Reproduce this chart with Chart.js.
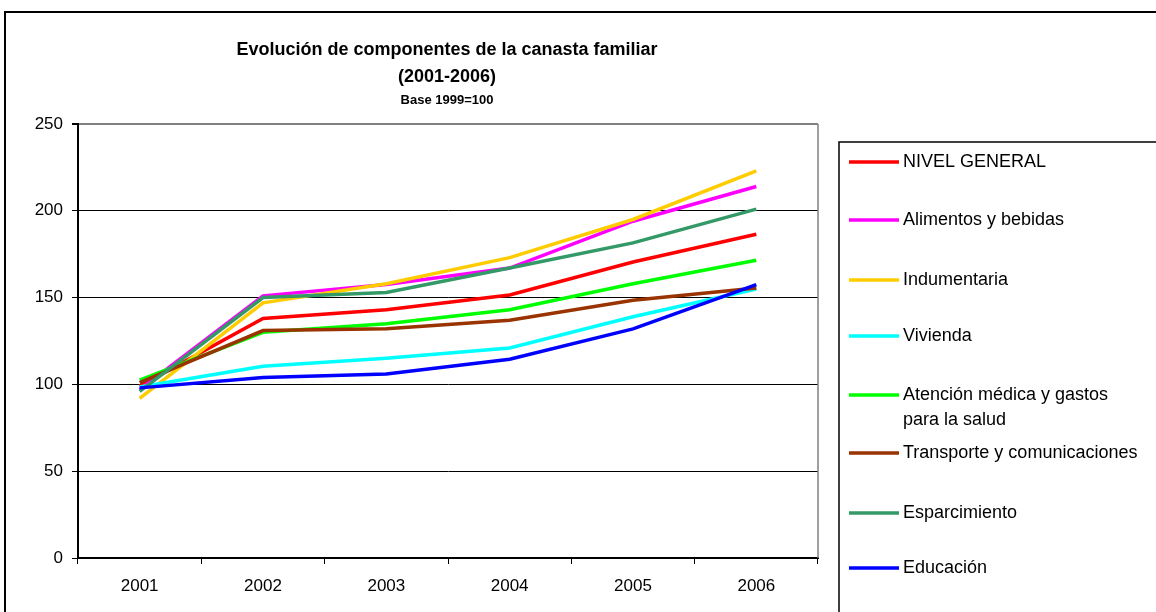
<!DOCTYPE html>
<html>
<head>
<meta charset="utf-8">
<script src="https://cdn.jsdelivr.net/npm/chart.js@4/dist/chart.umd.min.js"></script>
<style>
  html, body { margin: 0; padding: 0; background: #fff; }
  #wrap { width: 1156px; height: 612px; }
</style>
</head>
<body>
<div id="wrap"><canvas id="chart" width="1156" height="612"></canvas></div>
<script>
// Datos (índice base 1999=100)
const years = ['2001', '2002', '2003', '2004', '2005', '2006'];
const nivelGeneral  = [99, 138, 143, 151.5, 170.5, 186.5];
const alimentos     = [97, 151, 157.5, 167, 194, 214];
const indumentaria  = [92, 147, 158, 173, 195, 223];
const vivienda      = [98.5, 110.5, 115, 121, 139, 155];
const atencion      = [102.5, 130, 135, 143, 158, 171.5];
const transporte    = [101, 131, 132, 137, 148.5, 155.5];
const esparcimiento = [96, 150, 153, 167, 181.5, 201];
const educacion     = [98, 104, 106, 114.5, 132, 157.5];
const yTicks = [0, 50, 100, 150, 200, 250];

const seriesNames = [
    'NIVEL GENERAL',
    'Alimentos y bebidas',
    'Indumentaria',
    'Vivienda',
    ['Atención médica y gastos', 'para la salud'],
    'Transporte y comunicaciones',
    'Esparcimiento',
    'Educación'
];
const seriesData = [nivelGeneral, alimentos, indumentaria, vivienda, atencion, transporte, esparcimiento, educacion];
const seriesColors = ['#FF0000', '#FF00FF', '#FFCC00', '#00FFFF', '#00FF00', '#993300', '#339966', '#0000FF'];

const FONT = 'Arial, "Liberation Sans", sans-serif';

// Títulos, marco exterior, borde derecho del área y leyenda
const decorPlugin = {
    id: 'decor',
    afterDraw: (chart) => {
        const ctx = chart.ctx;
        const area = chart.chartArea;
        ctx.save();

        // marco del gráfico
        ctx.strokeStyle = '#000';
        ctx.lineWidth = 2;
        ctx.strokeRect(5, 12, 1200, 700);

        // borde derecho del área de trazado
        ctx.strokeStyle = '#808080';
        ctx.lineWidth = 1.5;
        ctx.beginPath();
        ctx.moveTo(area.right, area.top);
        ctx.lineTo(area.right, area.bottom);
        ctx.stroke();

        // títulos
        ctx.fillStyle = '#000';
        ctx.textAlign = 'center';
        ctx.textBaseline = 'middle';
        ctx.font = 'bold 18px ' + FONT;
        ctx.fillText('Evolución de componentes de la canasta familiar', 447, 50);
        ctx.fillText('(2001-2006)', 447, 77);
        ctx.font = 'bold 13px ' + FONT;
        ctx.fillText('Base 1999=100', 447, 100);

        // leyenda
        ctx.strokeStyle = '#000';
        ctx.lineWidth = 1.5;
        ctx.strokeRect(839, 142, 400, 600);
        const itemY = [162, 220, 280, 336, 395, 453, 513, 568];
        ctx.textAlign = 'left';
        ctx.font = '18px ' + FONT;
        chart.data.datasets.forEach((ds, i) => {
            const y = itemY[i];
            ctx.strokeStyle = ds.borderColor;
            ctx.lineWidth = 3.5;
            ctx.beginPath();
            ctx.moveTo(849, y);
            ctx.lineTo(899, y);
            ctx.stroke();
            ctx.fillStyle = '#000';
            const lines = Array.isArray(ds.label) ? ds.label : [ds.label];
            lines.forEach((t, k) => ctx.fillText(t, 903, y + k * 25));
        });
        ctx.restore();
    }
};

new Chart(document.getElementById('chart'), {
    type: 'line',
    data: {
        labels: years,
        datasets: seriesData.map((d, i) => ({
            label: seriesNames[i],
            data: d,
            borderColor: seriesColors[i],
            backgroundColor: seriesColors[i],
            borderWidth: 3.5,
            pointRadius: 0,
            tension: 0,
            order: seriesData.length - i
        }))
    },
    options: {
        responsive: false,
        animation: false,
        layout: { padding: { top: 124, right: 338, left: 0, bottom: 0 } },
        plugins: {
            legend: { display: false },
            title: { display: false },
            tooltip: { enabled: false }
        },
        scales: {
            x: {
                offset: true,
                afterFit: (scale) => { scale.height = 54; },
                grid: {
                    offset: true,
                    drawOnChartArea: false,
                    drawTicks: true,
                    tickLength: 6,
                    color: '#000'
                },
                border: { display: true, color: '#000', width: 2 },
                ticks: { color: '#000', font: { family: FONT, size: 17 }, padding: 12 }
            },
            y: {
                min: 0,
                max: 250,
                afterFit: (scale) => { scale.width = 78; },
                afterBuildTicks: (scale) => { scale.ticks = yTicks.map(v => ({ value: v })); },
                grid: {
                    color: (c) => (c.tick && c.tick.value === 250 ? '#808080' : '#000'),
                    lineWidth: (c) => (c.tick && c.tick.value === 250 ? 2 : 1),
                    tickColor: '#000',
                    tickLength: 6
                },
                border: { display: true, color: '#000', width: 2 },
                ticks: { color: '#000', font: { family: FONT, size: 17 }, padding: 9 }
            }
        }
    },
    plugins: [decorPlugin]
});
</script>
</body>
</html>
